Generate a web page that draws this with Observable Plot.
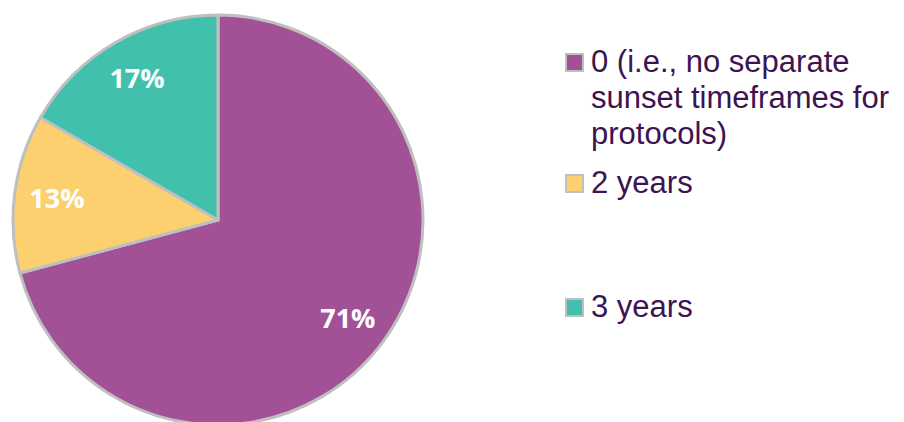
<!DOCTYPE html>
<html><head><meta charset="utf-8">
<script src="https://cdn.jsdelivr.net/npm/d3@7"></script>
<script src="https://cdn.jsdelivr.net/npm/@observablehq/plot@0.6"></script>
<style>
body{margin:0;background:#fff;}
#wrap{position:relative;width:904px;height:422px;overflow:hidden;}
#legend{position:absolute;left:565px;top:0;font-family:"Liberation Sans",Arial,sans-serif;font-size:31px;line-height:36px;color:#3d1352;}
.item{position:absolute;left:0;white-space:nowrap;}
.sw{position:absolute;left:0;top:8.5px;width:15px;height:15px;border:2.5px solid #bfbfbf;}
.lbl{position:absolute;left:26px;top:0;}
</style></head><body><div id="wrap"></div>
<script>
const categories = ["0 (i.e., no separate\nsunset timeframes for\nprotocols)", "2 years", "3 years"];
const counts = [17, 3, 4];
const percentLabels = ["71%", "13%", "17%"];
const colors = ["#a25197", "#fdd06f", "#41c0ac"];

const data = categories.map((c, i) => ({category: c, value: counts[i], label: percentLabels[i]}));
const cx = 218, cy = 220, R = 205, labelR = 163;
const arcs = d3.pie().sort(null).value(d => d.value)(data);
const arcGen = d3.arc().innerRadius(0).outerRadius(R);
const labelArc = d3.arc().innerRadius(labelR).outerRadius(labelR);
const color = Plot.scale({color: {type: "ordinal", domain: categories, range: colors}});
const labels = arcs.map(a => { const [x, y] = labelArc.centroid(a); return {x: cx + x, y: cy + y, label: a.data.label}; });

const chart = Plot.plot({
  width: 904, height: 422, margin: 0,
  x: {domain: [0, 904], range: [0, 904], axis: null},
  y: {domain: [0, 422], range: [0, 422], axis: null},
  marks: [
    () => {
      const g = d3.create("svg:g").attr("transform", `translate(${cx},${cy})`);
      g.selectAll("path").data(arcs).join("path")
        .attr("d", arcGen)
        .attr("fill", d => color.apply(d.data.category))
        .attr("stroke", "#bfbfbf")
        .attr("stroke-width", 3)
        .attr("stroke-linejoin", "round");
      return g.node();
    },
    Plot.text(labels, {x: "x", y: "y", text: "label", fill: "white", fontSize: 27, fontWeight: "bold", fontFamily: "Open Sans"})
  ]
});
const wrap = document.getElementById("wrap");
wrap.appendChild(chart);

const legend = document.createElement("div");
legend.id = "legend";
const itemTops = [44.3, 165.3, 289.3];
categories.forEach((c, i) => {
  const item = document.createElement("div");
  item.className = "item";
  item.style.top = itemTops[i] + "px";
  const sw = document.createElement("div");
  sw.className = "sw";
  sw.style.background = color.apply(c);
  const lbl = document.createElement("div");
  lbl.className = "lbl";
  c.split("\n").forEach((line, j) => {
    if (j) lbl.appendChild(document.createElement("br"));
    lbl.appendChild(document.createTextNode(line));
  });
  item.appendChild(sw);
  item.appendChild(lbl);
  legend.appendChild(item);
});
wrap.appendChild(legend);
</script></body></html>
